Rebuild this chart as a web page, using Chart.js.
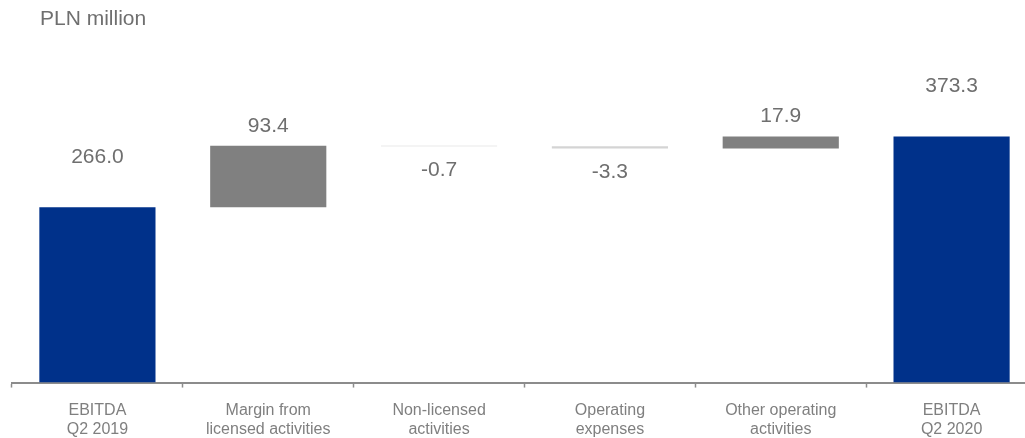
<!DOCTYPE html>
<html>
<head>
<meta charset="utf-8">
<script src="https://cdn.jsdelivr.net/npm/chart.js@4.4.1/dist/chart.umd.min.js"></script>
<style>
  html, body { margin: 0; padding: 0; background: #fff; overflow: hidden; }
  #wrap { position: relative; width: 1045px; height: 453px; }
  #unit {
    position: absolute; left: 40px; top: 6px;
    font: 21px "Liberation Sans", Arial, sans-serif; color: #6f6f6f;
  }
</style>
</head>
<body>
<div id="wrap">
  <div id="unit">PLN million</div>
  <canvas id="chart" width="1045" height="453"></canvas>
</div>
<script>
// 数据
const categories = [
  ['EBITDA', 'Q2 2019'],
  ['Margin from', 'licensed activities'],
  ['Non-licensed', 'activities'],
  ['Operating', 'expenses'],
  ['Other operating', 'activities'],
  ['EBITDA', 'Q2 2020']
];
const values = [266.0, 93.4, -0.7, -3.3, 17.9, 373.3];
const kinds = ['total', 'delta', 'delta', 'delta', 'delta', 'total'];
const valueLabels = ['266.0', '93.4', '-0.7', '-3.3', '17.9', '373.3'];

// 瀑布区间
const ranges = [];
let running = 0;
values.forEach((v, i) => {
  if (kinds[i] === 'total') {
    ranges.push([0, v]);
    running = v;
  } else {
    ranges.push([running, running + v]);
    running += v;
  }
});

const colors = values.map((v, i) => {
  if (kinds[i] === 'total') return '#00318a';
  return v >= 0 ? '#808080' : '#d4d4d4';
});

const labelPlugin = {
  id: 'valueLabels',
  afterDatasetsDraw(chart) {
    const ctx = chart.ctx;
    const meta = chart.getDatasetMeta(0);
    ctx.save();
    ctx.font = '21px "Liberation Sans", Arial, sans-serif';
    ctx.fillStyle = '#6f6f6f';
    ctx.textAlign = 'center';
    ctx.textBaseline = 'middle';
    meta.data.forEach((bar, i) => {
      const top = Math.min(bar.y, bar.base);
      const bottom = Math.max(bar.y, bar.base);
      let y;
      if (kinds[i] === 'total') y = top - 50;
      else if (values[i] >= 0) y = top - 20;
      else y = bottom + 24;
      ctx.fillText(valueLabels[i], bar.x, y);
    });
    ctx.restore();
  }
};

new Chart(document.getElementById('chart'), {
  type: 'bar',
  data: {
    labels: categories,
    datasets: [{
      data: ranges,
      backgroundColor: colors,
      borderWidth: 0,
      barPercentage: 0.68,
      categoryPercentage: 1
    }]
  },
  options: {
    responsive: false,
    animation: false,
    layout: { padding: { left: 12, right: 8, top: 119, bottom: 0 } },
    plugins: {
      legend: { display: false },
      tooltip: { enabled: false }
    },
    scales: {
      x: {
        grid: {
          offset: true,
          drawOnChartArea: false,
          drawTicks: true,
          tickLength: 5,
          tickWidth: 1.5,
          tickColor: '#8c8c8c'
        },
        border: { display: true, color: '#8c8c8c', width: 2 },
        ticks: {
          color: '#7f7f7f',
          padding: 14,
          maxRotation: 0,
          autoSkip: false,
          font: { family: '"Liberation Sans", Arial, sans-serif', size: 16, lineHeight: 1.17 }
        }
      },
      y: { display: false, min: 0, max: 400 }
    }
  },
  plugins: [labelPlugin]
});
</script>
</body>
</html>
